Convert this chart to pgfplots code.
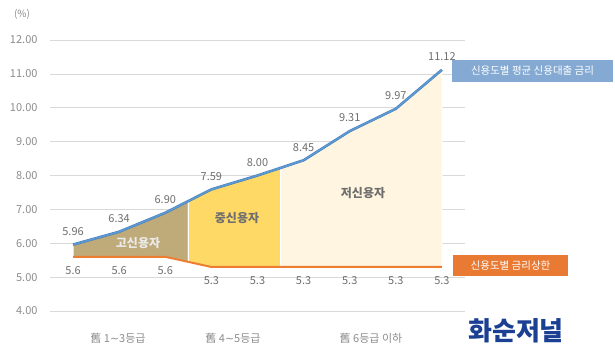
\documentclass[border=0pt]{standalone}
\usepackage{fontspec}
\setmainfont{Noto Sans CJK KR}
\newfontfamily\dejavu{DejaVu Sans}
\usepackage{pgfplots}
\pgfplotsset{compat=1.18}
\usepgfplotslibrary{fillbetween}
\definecolor{bl}{HTML}{5B9BD5}
\definecolor{bld}{HTML}{4A7EB8}
\definecolor{org}{HTML}{ED7D31}
\definecolor{fa}{HTML}{BFAA7A}
\definecolor{fb}{HTML}{FFD966}
\definecolor{fc}{HTML}{FFF5E1}
\definecolor{tickc}{HTML}{8C8C8C}
\definecolor{labc}{HTML}{6E6E6E}
\definecolor{legb}{HTML}{84A9D2}
\definecolor{lego}{HTML}{E97A33}
\definecolor{logoc}{HTML}{1B3F93}
\begin{document}
\begin{tikzpicture}[x=1pt,y=1pt]
\begin{axis}[
  at={(50pt,45pt)}, anchor=south west,
  scale only axis, width=415pt, height=271pt,
  xmin=0.5, xmax=9.5, ymin=4, ymax=12,
  ytick={4,5,...,12}, xtick=\empty,
  axis line style={draw=none},
  major tick length=0pt,
  ymajorgrids, grid style={color=black!15, line width=0.7pt},
  yticklabel style={font=\fontsize{11}{13}\selectfont, color=tickc, xshift=-9pt,
    /pgf/number format/.cd, fixed, fixed zerofill, precision=2, assume math mode=true},
  clip=false,
]
\addplot[name path=blue, draw=none] coordinates {(1,5.96) (2,6.34) (3,6.90) (4,7.59) (5,8.00) (6,8.45) (7,9.31) (8,9.97) (9,11.12)};
\addplot[name path=orange, draw=none] coordinates {(1,5.6) (2,5.6) (3,5.6) (4,5.3) (5,5.3) (6,5.3) (7,5.3) (8,5.3) (9,5.3)};
\addplot[fill=fa, draw=white, line width=1pt] fill between[of=blue and orange, soft clip={domain=1:3.5}];
\addplot[fill=fb, draw=white, line width=1pt] fill between[of=blue and orange, soft clip={domain=3.5:5.5}];
\addplot[fill=fc, draw=white, line width=1pt] fill between[of=blue and orange, soft clip={domain=5.5:9}];
\addplot[color=org, line width=2pt] coordinates {(1,5.6) (2,5.6) (3,5.6) (4,5.3) (5,5.3) (6,5.3) (7,5.3) (8,5.3) (9,5.3)};
\addplot[color=bld, line width=2.6pt] coordinates {(1,5.96) (2,6.34) (3,6.90) (4,7.59) (5,8.00) (6,8.45) (7,9.31) (8,9.97) (9,11.12)};
\addplot[color=bl, line width=1.5pt,
  nodes near coords, point meta=y,
  every node near coord/.append style={anchor=south, yshift=5pt, color=labc,
    font=\fontsize{11}{13}\selectfont,
    /pgf/number format/.cd, fixed, fixed zerofill, precision=2, assume math mode=true}]
  coordinates {(1,5.96) (2,6.34) (3,6.90) (4,7.59) (5,8.00) (6,8.45) (7,9.31) (8,9.97) (9,11.12)};
\addplot[draw=none, mark=none,
  nodes near coords, point meta=y,
  every node near coord/.append style={anchor=north, yshift=-6pt, color=labc,
    font=\fontsize{11}{13}\selectfont,
    /pgf/number format/.cd, fixed, fixed zerofill, precision=1, assume math mode=true}]
  coordinates {(1,5.6) (2,5.6) (3,5.6) (4,5.3) (5,5.3) (6,5.3) (7,5.3) (8,5.3) (9,5.3)};
\end{axis}
% texts
\node[color=tickc, font=\fontsize{10}{12}\selectfont] at (22,342) {(\%)};
\node[color=white!92!black, font=\fontsize{12}{14}\selectfont\bfseries] at (138,113) {고신용자};
\node[color=labc, font=\fontsize{12}{14}\selectfont\bfseries] at (237,138) {중신용자};
\node[color=labc, font=\fontsize{12}{14}\selectfont\bfseries] at (363,163) {저신용자};
\node[color=tickc, font=\fontsize{11}{13}\selectfont] at (118,18) {舊 1{\dejavu ∼}3등급};
\node[color=tickc, font=\fontsize{11}{13}\selectfont] at (233,18) {舊 4{\dejavu ∼}5등급};
\node[color=tickc, font=\fontsize{11}{13}\selectfont] at (371,18) {舊 6등급 이하};
\node[fill=legb, text=white, minimum width=161pt, minimum height=22pt, inner sep=0pt, font=\fontsize{10.5}{12}\selectfont] at (532.5,285) {신용도별 평균 신용대출 금리};
\node[fill=lego, text=white, minimum width=115pt, minimum height=21pt, inner sep=0pt, font=\fontsize{10.5}{12}\selectfont] at (510.5,90.5) {신용도별 금리상한};
\node[color=logoc, font=\fontsize{26}{28}\selectfont\bfseries] at (516,25) {화순저널};
\pgfresetboundingbox
\useasboundingbox (0,0) rectangle (615,356);
\end{tikzpicture}
\end{document}
